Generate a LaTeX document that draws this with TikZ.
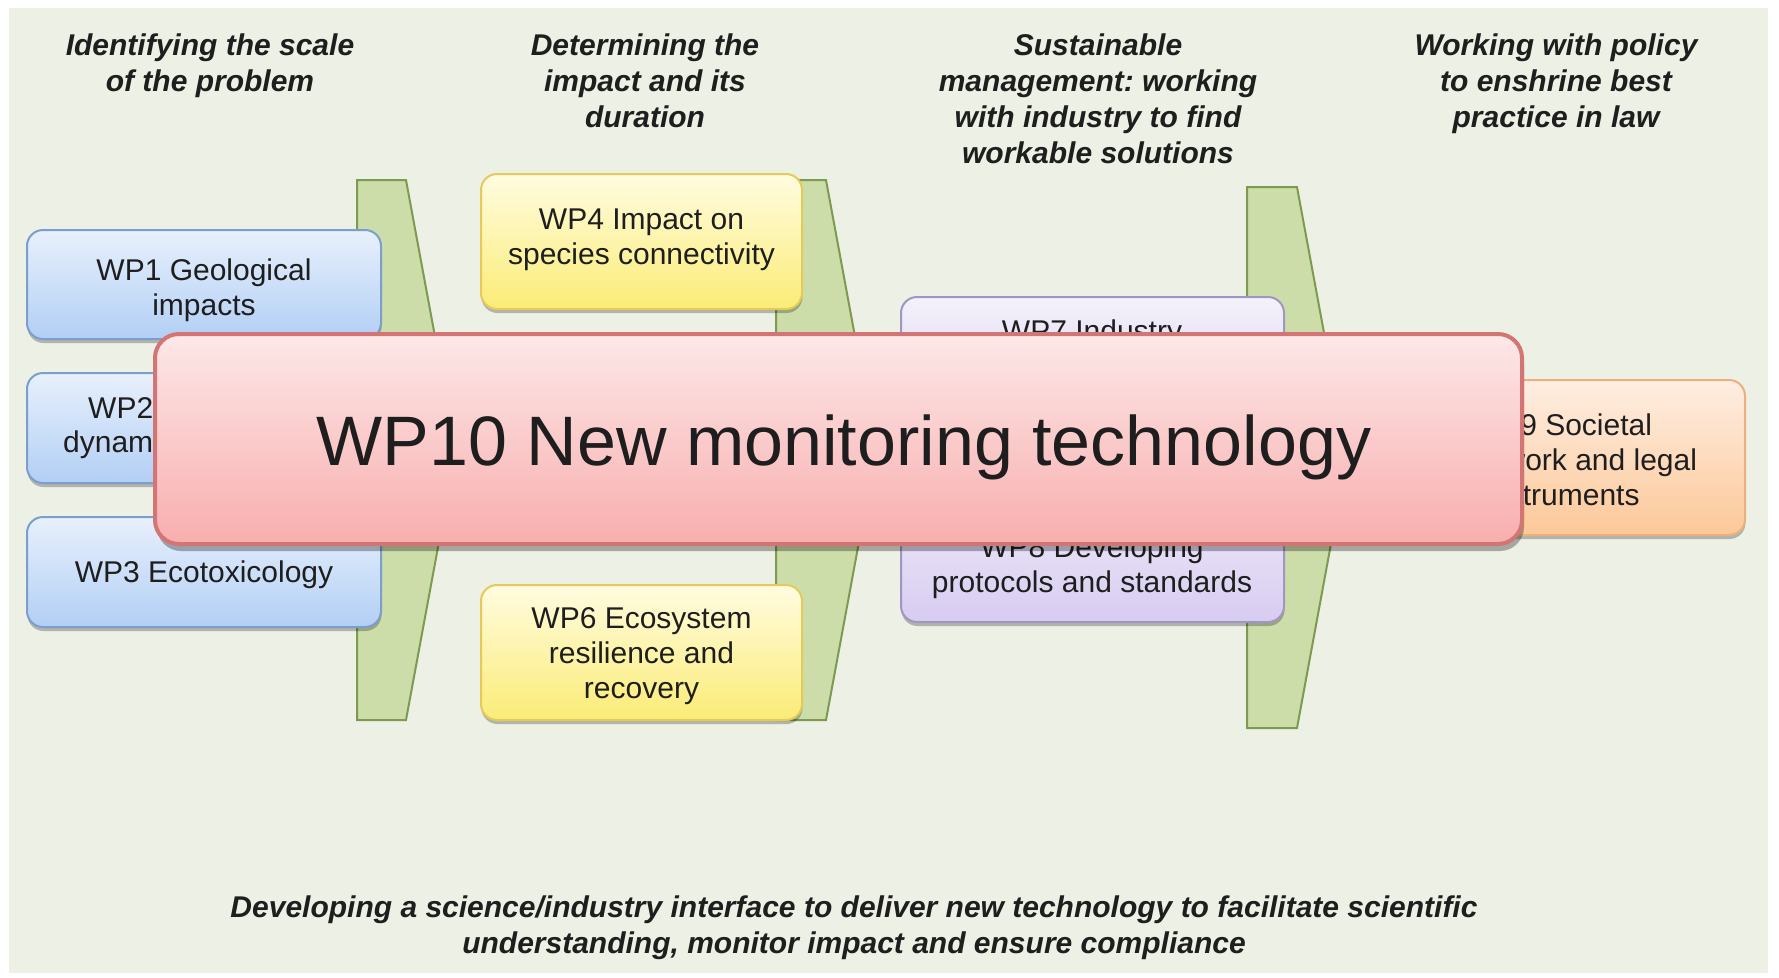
\documentclass[tikz,border=0pt]{standalone}
\usepackage{fontspec}
\setmainfont{Liberation Sans}
\usetikzlibrary{shadows}
\definecolor{bg}{RGB}{237,241,229}
\definecolor{txt}{RGB}{30,30,30}
\definecolor{gfill}{RGB}{205,221,170}
\definecolor{gline}{RGB}{124,154,80}
\definecolor{blueT}{RGB}{232,240,252}
\definecolor{blueB}{RGB}{178,207,245}
\definecolor{blueL}{RGB}{122,158,205}
\definecolor{yelT}{RGB}{255,252,224}
\definecolor{yelB}{RGB}{251,236,118}
\definecolor{yelL}{RGB}{229,201,90}
\definecolor{purT}{RGB}{244,242,251}
\definecolor{purB}{RGB}{215,203,240}
\definecolor{purL}{RGB}{160,150,196}
\definecolor{orT}{RGB}{254,238,226}
\definecolor{orB}{RGB}{252,200,152}
\definecolor{orL}{RGB}{236,176,127}
\definecolor{redT}{RGB}{253,232,232}
\definecolor{redB}{RGB}{248,174,174}
\definecolor{redL}{RGB}{211,117,117}
\frenchspacing
\newcommand\wpfont{\fontsize{30}{35}\selectfont}
\newcommand\ttlfont{\fontsize{30}{36}\selectfont\bfseries\itshape}
\newcommand\bigfont{\fontsize{70}{84}\selectfont}
\tikzset{
  gate/.style={fill=gfill, draw=gline, line width=2pt, line join=miter},
  wpbox/.style={draw, line width=2pt, rounded corners=16pt, inner sep=0pt,
    drop shadow={shadow xshift=0.5pt, shadow yshift=-4pt, opacity=0.25, fill=black}},
  bluebox/.style={wpbox, draw=blueL, top color=blueT, bottom color=blueB},
  yelbox/.style={wpbox, draw=yelL, top color=yelT, bottom color=yelB},
  purbox/.style={wpbox, draw=purL, top color=purT, bottom color=purB},
  orbox/.style={wpbox, draw=orL, top color=orT, bottom color=orB},
  redbox/.style={draw=redL, line width=4pt, rounded corners=24pt, inner sep=0pt,
    top color=redT, bottom color=redB,
    drop shadow={shadow xshift=2pt, shadow yshift=-7pt, opacity=0.3, fill=black}},
  wptext/.style={inner sep=0pt, align=center, font=\wpfont, text=txt},
  ttl/.style={inner sep=0pt, align=center, font=\ttlfont, text=txt},
}
\begin{document}
\begin{tikzpicture}[x=1pt, y=-1pt]
\useasboundingbox (0,0) rectangle (1779,977);
\fill[white] (0,0) rectangle (1779,977);
\fill[bg] (9,8) rectangle (1768,973);

% titles
\node[ttl] (t1) at (210,65.8) {\strut Identifying the scale\\\strut of the problem};
\node[ttl] (t2) at (645,83.8) {\strut Determining the\\\strut impact and its\\\strut duration};
\node[ttl] (t3) at (1098,101.8) {\strut Sustainable\\\strut management: working\\\strut with industry to find\\\strut workable solutions};
\node[ttl] (t4) at (1556,83.8) {\strut Working with policy\\\strut to enshrine best\\\strut practice in law};
\node[ttl] (t5) at (854,927.8) {\strut Developing a science/industry interface to deliver new technology to facilitate scientific\\\strut understanding, monitor impact and ensure compliance};

% green stage markers
\draw[gate] (357,180) -- (406,180) -- (456,450) -- (406,720) -- (357,720) -- cycle;
\draw[gate] (776,180) -- (826,180) -- (876,450) -- (826,720) -- (776,720) -- cycle;
\draw[gate] (1247,187) -- (1297,187) -- (1347,457) -- (1297,728) -- (1247,728) -- cycle;

% work package boxes
\node[bluebox, minimum width=354pt, minimum height=109pt] (wp1) at (204,284.5) {};
\node[wptext] (wp1t) at (204,290.5) {\strut WP1 Geological\\\strut impacts};
\node[bluebox, minimum width=354pt, minimum height=110pt] (wp2) at (204,428) {};
\node[wptext, anchor=base west] (wp2a) at (88,418) {WP2 Plume};
\node[wptext, anchor=base west] (wp2b) at (63,452) {dynamics};
\node[bluebox, minimum width=354pt, minimum height=110pt] (wp3) at (204,572) {};
\node[wptext] (wp3t) at (204,575) {\strut WP3 Ecotoxicology};

\node[yelbox, minimum width=321pt, minimum height=135pt] (wp4) at (641.5,241.5) {};
\node[wptext] (wp4t) at (641.5,239.5) {\strut WP4 Impact on\\\strut species connectivity};
\node[yelbox, minimum width=321pt, minimum height=135pt] (wp6) at (641.5,652.5) {};
\node[wptext] (wp6t) at (641.5,656) {\strut WP6 Ecosystem\\\strut resilience and\\\strut recovery};

\node[purbox, minimum width=383pt, minimum height=123pt] (wp7) at (1092.5,358.5) {};
\node[wptext] (wp7t) at (1092,334.5) {\strut WP7 Industry};
\node[purbox, minimum width=383pt, minimum height=152pt] (wp8) at (1092.5,546) {};
\node[wptext] (wp8t) at (1092,567.5) {\strut WP8 Developing\\\strut protocols and standards};

\node[orbox, minimum width=365pt, minimum height=155pt] (wp9) at (1562.5,457.5) {};
\node[wptext] (wp9t) at (1562,463) {\strut WP9 Societal\\\strut framework and legal\\\strut instruments};

% WP10 overlay
\node[redbox, minimum width=1367pt, minimum height=210pt] (wp10) at (838.5,439) {};
\node[inner sep=0pt, font=\bigfont, text=txt] (wp10t) at (844,448.2) {\strut WP10 New monitoring technology};
\end{tikzpicture}
\end{document}
